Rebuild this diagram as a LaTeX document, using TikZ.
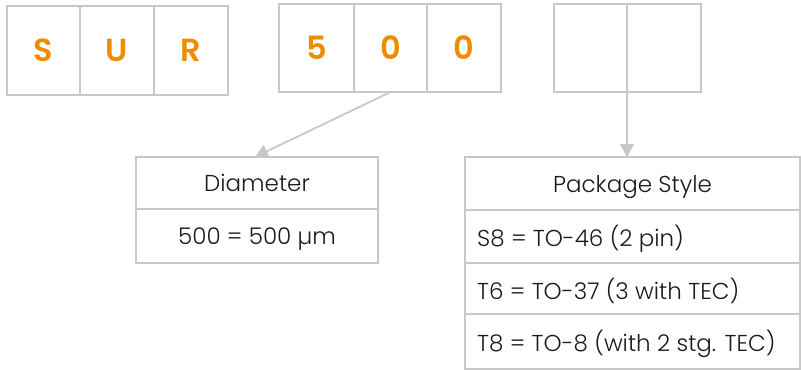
\documentclass[tikz,border=0pt]{standalone}
\usepackage{fontspec}
\setmainfont{Poppins}[UprightFont=* Light, BoldFont=* SemiBold]
\usetikzlibrary{arrows.meta}
\definecolor{rule}{HTML}{C8C8C8}
\definecolor{code}{HTML}{EE8C00}
\definecolor{ink}{HTML}{1A1A1A}
\begin{document}
\begin{tikzpicture}[x=1pt,y=-1pt,
  box/.style={draw=rule, line width=1.8pt, rectangle, inner sep=0pt, outer sep=0pt, anchor=north west},
  letter/.style={box, text=code, font=\fontsize{32}{32}\selectfont\bfseries, text depth=-3pt},
  cellrow/.style={box, text=ink, font=\fontsize{23}{23}\selectfont, text depth=-2pt},
  rowtext/.style={font=\fontsize{23}{23}\selectfont, text=ink, anchor=west, inner sep=0pt, yshift=-2pt},
  link/.style={draw=rule, line width=1.8pt, -{Triangle[width=14pt,length=13pt]}}]
\useasboundingbox (0,0) rectangle (801,371);
% code letters
\node[letter, minimum width=73, minimum height=89] (s) at (7,6) {S};
\node[letter, minimum width=74, minimum height=89] (u) at (80,6) {U};
\node[letter, minimum width=74, minimum height=89] (r) at (154,6) {R};
\node[letter, minimum width=75, minimum height=88] (d1) at (279,4) {5};
\node[letter, minimum width=73, minimum height=88] (d2) at (354,4) {0};
\node[letter, minimum width=74, minimum height=88] (d3) at (427,4) {0};
\node[box, minimum width=73, minimum height=88] (e1) at (554,4) {};
\node[box, minimum width=74, minimum height=88] (e2) at (627,4) {};
% diameter table
\node[cellrow, minimum width=242, minimum height=52] (dh) at (136,157) {Diameter};
\node[cellrow, minimum width=242, minimum height=54] (db) at (136,209) {500 = 500 µm};
% package table
\node[cellrow, minimum width=335, minimum height=53] (ph) at (465,157) {Package Style};
\node[cellrow, minimum width=335, minimum height=53] (p1) at (465,210) {};
\node[cellrow, minimum width=335, minimum height=51] (p2) at (465,263) {};
\node[cellrow, minimum width=335, minimum height=55] (p3) at (465,314) {};
\node[rowtext] (t1) at ([xshift=12pt]p1.west) {S8 = TO-46 (2 pin)};
\node[rowtext] (t2) at ([xshift=12pt]p2.west) {T6 = TO-37 (3 with TEC)};
\node[rowtext] (t3) at ([xshift=12pt]p3.west) {T8 = TO-8 (with 2 stg. TEC)};
% connectors
\draw[link] (d2.south) -- ([xshift=-2pt]dh.north);
\draw[link] (e1.south east) -- (e1.south east |- ph.north);
\end{tikzpicture}
\end{document}
